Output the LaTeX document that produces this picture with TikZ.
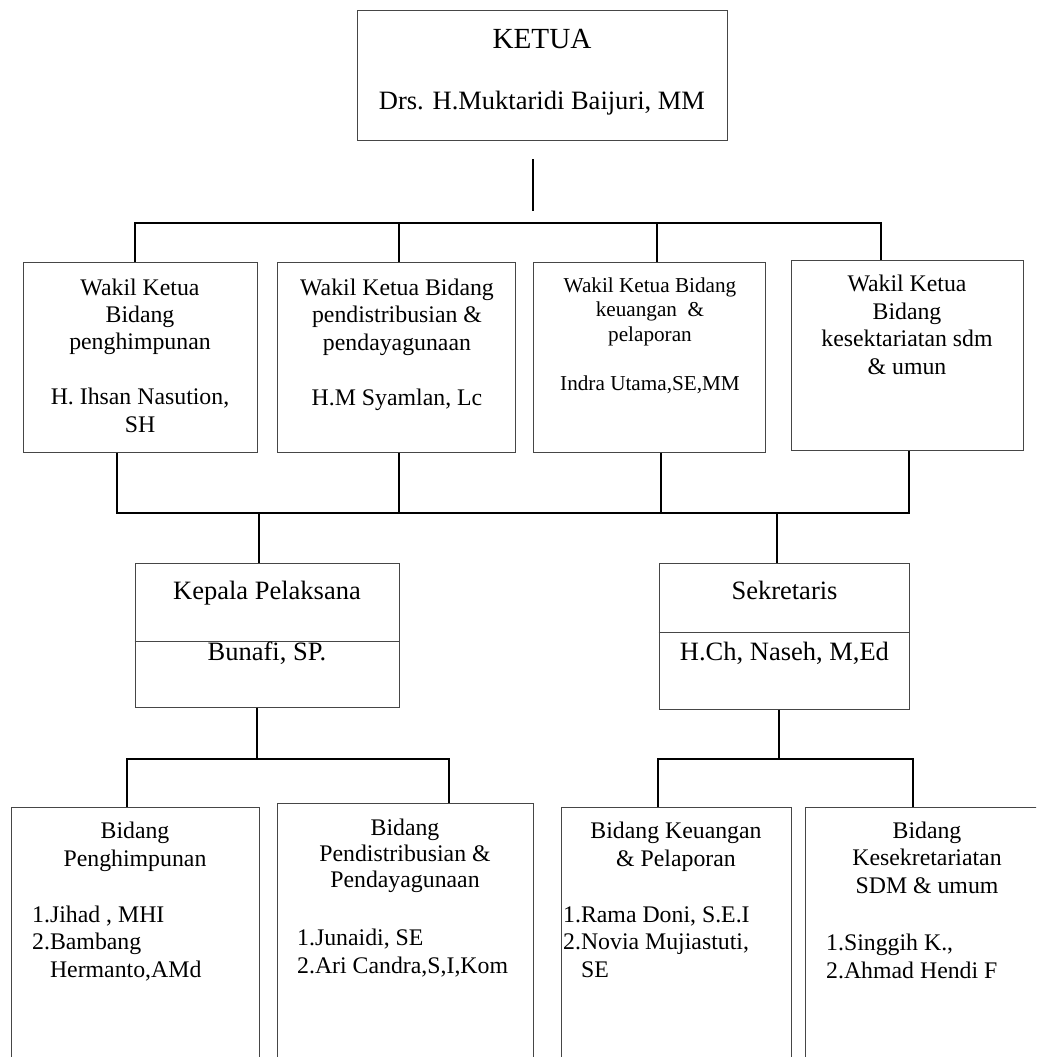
\documentclass[tikz,border=0pt]{standalone}
\usepackage{fontspec}
\setmainfont{Liberation Serif}
\definecolor{bcol}{RGB}{70,70,70}
\tikzset{every picture/.style={x=1pt,y=-1pt}}
\tikzset{box/.style={draw=bcol,line width=1pt,inner sep=0pt}}
\tikzset{conn/.style={line width=2pt}}
\tikzset{txt/.style={font=\fontsize{23.8}{27.4}\selectfont,align=center,inner sep=0pt,anchor=base}}
\tikzset{big/.style={font=\fontsize{26.5}{30.5}\selectfont}}
\tikzset{sml/.style={font=\fontsize{21.2}{24.5}\selectfont}}
\tikzset{lst/.style={txt,align=left,anchor=base west}}
\begin{document}
\begin{tikzpicture}
\clip (0,0) rectangle (1036,1057);

\node [box,minimum width=370pt,minimum height=129pt] (k) at (542,75.5) {};
\node [box,minimum width=234pt,minimum height=190pt] (w1) at (140,357) {};
\node [box,minimum width=238pt,minimum height=190pt] (w2) at (396,357) {};
\node [box,minimum width=232pt,minimum height=190pt] (w3) at (649,357) {};
\node [box,minimum width=232pt,minimum height=190pt] (w4) at (907,355) {};
\node [box,minimum width=264pt,minimum height=144pt] (kp) at (267,635) {};
\node [box,minimum width=250pt,minimum height=146pt] (sk) at (784,636) {};
\node [box,minimum width=248pt,minimum height=273pt] (b1) at (135,943.5) {};
\node [box,minimum width=256pt,minimum height=277pt] (b2) at (405,941.5) {};
\node [box,minimum width=230pt,minimum height=273pt] (b3) at (676,943.5) {};
\node [box,minimum width=244pt,minimum height=273pt] (b4) at (927,943.5) {};

\coordinate (kd) at (267,641);
\coordinate (sd) at (784,632);
\draw [bcol,line width=1pt] (kp.west |- kd) -- (kp.east |- kd);
\draw [bcol,line width=1pt] (sk.west |- sd) -- (sk.east |- sd);

\node [txt,big] (kt) at (542,109) {{\fontsize{29.2}{30.5}\selectfont KETUA}\\[30.5pt]Drs. H.Muktaridi Baijuri, MM};
\node [txt] (w1t) at (140,432) {Wakil Ketua\\Bidang\\penghimpunan\\[27.4pt]H. Ihsan Nasution,\\SH};
\node [txt] (w2t) at (397,405) {Wakil Ketua Bidang\\pendistribusian \&\\pendayagunaan\\[27.4pt]H.M Syamlan, Lc};
\node [txt,sml] (w3t) at (650,390) {Wakil Ketua Bidang\\keuangan~~\&\\pelaporan\\[24.5pt]Indra Utama,SE,MM};
\node [txt] (w4t) at (907,374) {Wakil Ketua\\Bidang\\kesektariatan sdm\\\& umun};
\node [txt,big] (kpt) at (267,660) {Kepala Pelaksana\\[30.5pt]Bunafi, SP.};
\node [txt,big] (skt) at (784.5,660) {Sekretaris\\[30.5pt]H.Ch, Naseh, M,Ed};

\node [txt] (b1t) at (135,866) {Bidang\\Penghimpunan};
\node [lst] (b1l) at (32,977) {1.Jihad , MHI\\2.Bambang\\\phantom{2.}Hermanto,AMd};
\node [txt] (b2t) at (405,887) {Bidang\\[-1.5pt]Pendistribusian \&\\[-1.5pt]Pendayagunaan};
\node [lst] (b2l) at (297,973) {1.Junaidi, SE\\2.Ari Candra,S,I,Kom};
\node [txt] (b3t) at (676,866) {Bidang Keuangan\\\& Pelaporan};
\node [lst] (b3l) at (563,977) {1.Rama Doni, S.E.I\\2.Novia Mujiastuti,\\\phantom{2.}SE};
\node [txt] (b4t) at (927,893) {Bidang\\Kesekretariatan\\SDM \& umum};
\node [lst] (b4l) at (826,978) {1.Singgih K.,\\2.Ahmad Hendi F};

\coordinate (k1) at (533,159);
\coordinate (k2) at (533,211);
\draw [conn] (k1) -- (k2);

\coordinate (t1) at (135,223);
\coordinate (t2) at (399,223);
\coordinate (t3) at (657,223);
\coordinate (t4) at (881,223);
\draw [conn] (w1.north -| t1) -- (t1) -- (t4) -- (w4.north -| t4);
\draw [conn] (t2) -- (w2.north -| t2);
\draw [conn] (t3) -- (w3.north -| t3);

\coordinate (m1) at (117,513);
\coordinate (m2) at (399,513);
\coordinate (m3) at (661,513);
\coordinate (m4) at (909,513);
\draw [conn] (w1.south -| m1) -- (m1) -- (m4) -- (w4.south -| m4);
\draw [conn] (w2.south -| m2) -- (m2);
\draw [conn] (w3.south -| m3) -- (m3);

\coordinate (d1) at (259,513);
\coordinate (d2) at (777,513);
\draw [conn] (d1) -- (kp.north -| d1);
\draw [conn] (d2) -- (sk.north -| d2);

\coordinate (p0) at (257,759);
\coordinate (p1) at (127,759);
\coordinate (p2) at (449,759);
\draw [conn] (kp.south -| p0) -- (p0);
\draw [conn] (b1.north -| p1) -- (p1) -- (p2) -- (b2.north -| p2);

\coordinate (q0) at (779,759);
\coordinate (q1) at (658,759);
\coordinate (q2) at (913,759);
\draw [conn] (sk.south -| q0) -- (q0);
\draw [conn] (b3.north -| q1) -- (q1) -- (q2) -- (b4.north -| q2);
\end{tikzpicture}
\end{document}
